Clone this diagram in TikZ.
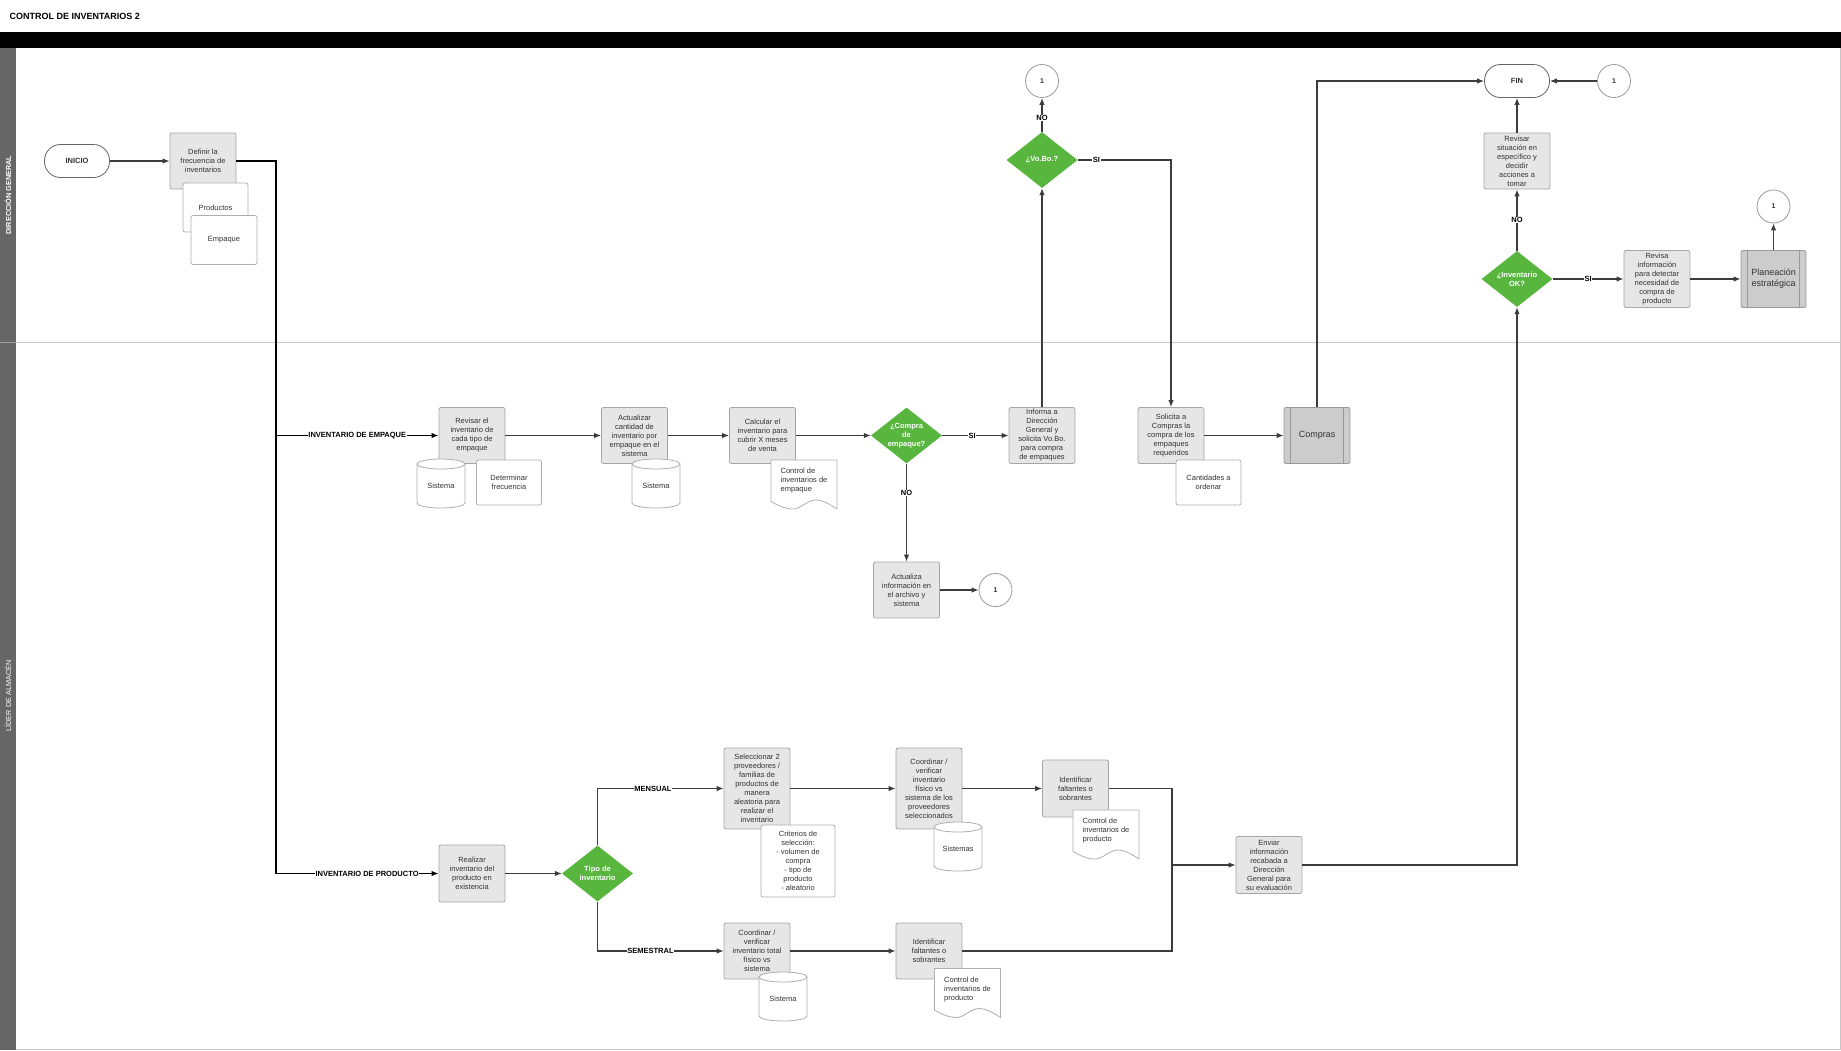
\documentclass[tikz,border=0pt]{standalone}
\usepackage{fontspec}
\setmainfont{Liberation Sans}
\usetikzlibrary{arrows.meta,shapes.geometric}

\definecolor{boxfill}{HTML}{E6E6E6}
\definecolor{boxline}{HTML}{A6A6A6}
\definecolor{predfill}{HTML}{CCCCCC}
\definecolor{predline}{HTML}{999999}
\definecolor{noteline}{HTML}{AFAFAF}
\definecolor{txt}{HTML}{333333}
\definecolor{decgreen}{HTML}{58B63E}
\definecolor{linec}{HTML}{3C3C3C}
\definecolor{hdr}{HTML}{666666}
\definecolor{lanec}{HTML}{C8C8C8}

\newcommand\boxfont{\fontsize{7.5}{9}\selectfont}

% document shape: name, top-left corner, text
\newcommand\docnode[3]{%
  \begin{scope}[shift={#2}]
    \draw[noteline, fill=white, line width=0.8pt] (0,0) -- (66,0) -- (66,49)
      .. controls (58,44) and (52,40) .. (45,40)
      .. controls (36,40) and (30,49) .. (22,49)
      .. controls (14,49) and (6,45) .. (0,41.5) -- cycle;
    \node[doctext] (#1) at (33,21) {#3};
  \end{scope}}

% cylinder: name, top-left corner, text
\newcommand\cylnode[3]{%
  \begin{scope}[shift={#2}]
    \draw[noteline, fill=white, line width=0.8pt] (0,5) -- (0,44)
      arc[start angle=180, end angle=360, x radius=24pt, y radius=5pt] -- (48,5)
      arc[start angle=0, end angle=180, x radius=24pt, y radius=5pt] -- cycle;
    \draw[noteline, line width=0.8pt] (0,5) arc[start angle=180, end angle=360, x radius=24pt, y radius=5pt];
    \node[doctext, align=center] (#1) at (24,27) {#3};
  \end{scope}}

% inner bars of a predefined process
\newcommand\predbars[1]{%
  \draw[predline, line width=0.8pt] ([xshift=7pt]#1.north west) -- ([xshift=7pt]#1.south west);
  \draw[predline, line width=0.8pt] ([xshift=-7pt]#1.north east) -- ([xshift=-7pt]#1.south east);}

\tikzset{
  proc/.style={draw=boxline, fill=boxfill, line width=0.8pt, rounded corners=2pt, minimum width=66pt, minimum height=56pt, inner sep=1pt, align=center, font=\boxfont, text=txt},
  note/.style={draw=noteline, fill=white, line width=0.8pt, rounded corners=2pt, minimum width=65pt, minimum height=45pt, inner sep=1pt, align=center, font=\boxfont, text=txt},
  pred/.style={proc, fill=predfill, draw=predline, font=\fontsize{9}{11}\selectfont},
  dec/.style={diamond, fill=decgreen, minimum width=71pt, minimum height=56pt, inner sep=0pt, aspect=1.27, align=center, text=white, font=\fontsize{7.5}{8.7}\selectfont\bfseries},
  term/.style={draw=linec!80, fill=white, line width=0.8pt, rounded corners=16pt, minimum width=65pt, minimum height=33pt, font=\boxfont\bfseries, text=txt},
  conn/.style={circle, draw=predline, fill=white, line width=0.8pt, minimum size=33pt, inner sep=0pt, font=\fontsize{7}{8}\selectfont\bfseries, text=txt},
  doctext/.style={inner sep=0pt, align=left, font=\boxfont, text=txt},
  lbl/.style={fill=white, inner sep=0.6pt, font=\boxfont\bfseries},
  line/.style={draw=linec, line width=1.1pt},
  edge/.style={line, -{Latex[length=7pt,width=5.5pt]}},
  trunk/.style={edge, draw=black, line width=1.6pt},
  lanelbl/.style={rotate=90, text=white, font=\fontsize{7.3}{8}\selectfont},
}

\begin{document}
\begin{tikzpicture}[x=1pt, y=-1pt]
	\useasboundingbox (0,0) rectangle (1841,1050);
	% lanes
	\fill[black] (0,32) rectangle (1841,48);
	\fill[hdr] (0,48) rectangle (16,1050);
	\draw[lanec] (16,342) -- (1840,342);
	\draw[lanec!60!hdr] (0,342) -- (16,342);
	\draw[lanec] (1840,48) -- (1840,1049) -- (16,1049);
	\node[lanelbl, font=\fontsize{7.3}{8}\selectfont\bfseries] (lane1) at (8,195) {DIRECCIÓN GENERAL};
	\node[lanelbl] (lane2) at (8,696) {LÍDER DE ALMACÉN};
	\node[anchor=west, font=\fontsize{9}{11}\selectfont\bfseries] (title) at (6,16) {CONTROL DE INVENTARIOS 2};

	% direccion general
	\node[term] (inicio) at (77,161) {INICIO};
	\node[proc] (defin) at (203,161) {Definir la\\frecuencia de\\inventarios};
	\node[note, minimum height=49pt] (prod) at (215.5,207.5) {Productos};
	\node[note, minimum width=66pt, minimum height=49pt] (emp) at (224,240) {Empaque};
	\node[conn] (c1a) at (1042,81) {1};
	\node[dec] (vobo) at (1042,160) {¿Vo.Bo.?};
	\node[term] (fin) at (1517,81) {FIN};
	\node[conn] (c1c) at (1614,81) {1};
	\node[proc] (revsit) at (1517,161) {Revisar\\situación en\\específico y\\decidir\\acciones a\\tomar};
	\node[dec] (invok) at (1517,279) {¿Inventario\\OK?};
	\node[proc, minimum height=57pt] (revinfo) at (1657,279) {Revisa\\información\\para detectar\\necesidad de\\compra de\\producto};
	\node[pred, minimum width=65pt, minimum height=57pt] (plan) at (1773.5,279) {Planeación\\estratégica};
	\predbars{plan}
	\node[conn] (c1d) at (1773.5,206.5) {1};

	% lider de almacen: empaque
	\node[proc] (revemp) at (472,435.5) {Revisar el\\inventario de\\cada tipo de\\empaque};
	\cylnode{sis1}{(417,459)}{Sistema}
	\node[note] (detfrec) at (509,482.5) {Determinar\\frecuencia};
	\node[proc] (actcant) at (634.5,435.5) {Actualizar\\cantidad de\\inventario por\\empaque en el\\sistema};
	\cylnode{sis2}{(632,459)}{Sistema}
	\node[proc] (calc) at (762.5,435.5) {Calcular el\\inventario para\\cubrir X meses\\de venta};
	\docnode{ctrlemp}{(771,460)}{Control de\\inventarios de\\empaque}
	\node[dec] (compra) at (906.5,435.5) {¿Compra\\de\\empaque?};
	\node[proc] (informa) at (1042,435.5) {Informa a\\Dirección\\General y\\solicita Vo.Bo.\\para compra\\de empaques};
	\node[proc] (actinfo) at (906.5,590) {Actualiza\\información en\\el archivo y\\sistema};
	\node[conn] (c1b) at (995.5,590) {1};
	\node[proc] (solic) at (1171,435.5) {Solicita a\\Compras la\\compra de los\\empaques\\requeridos};
	\node[note] (cant) at (1208.5,482.5) {Cantidades a\\ordenar};
	\node[pred] (compras) at (1317,435.5) {Compras};
	\predbars{compras}

	% lider de almacen: producto
	\node[proc, minimum height=57pt] (realiz) at (472,873.5) {Realizar\\inventario del\\producto en\\existencia};
	\node[dec] (tipo) at (597.5,873.5) {Tipo de\\inventario};
	\node[proc, minimum height=81pt] (selec) at (757,788.5) {Seleccionar 2\\proveedores /\\familias de\\productos de\\manera\\aleatoria para\\realizar el\\inventario};
	\node[note, minimum width=74pt, minimum height=72pt] (crit) at (798,861) {Criterios de\\selección:\\- volumen de\\compra\\- tipo de\\producto\\- aleatorio};
	\node[proc, minimum height=81pt] (coordprov) at (929,788.5) {Coordinar /\\verificar\\inventario\\físico vs\\sistema de los\\proveedores\\seleccionados};
	\cylnode{sistemas}{(934,822)}{Sistemas}
	\node[proc, minimum height=57pt] (idtop) at (1075.5,788.5) {Identificar\\faltantes o\\sobrantes};
	\docnode{ctrlprod1}{(1073,810)}{Control de\\inventarios de\\producto}
	\node[proc, minimum height=57pt] (enviar) at (1269,865) {Enviar\\información\\recabada a\\Dirección\\General para\\su evaluación};
	\node[proc] (coordtot) at (757,951) {Coordinar /\\verificar\\inventario total\\físico vs\\sistema};
	\cylnode{sis3}{(759,972)}{Sistema}
	\node[proc] (idbot) at (929,951) {Identificar\\faltantes o\\sobrantes};
	\docnode{ctrlprod2}{(934.5,968.5)}{Control de\\inventarios de\\producto}

	% connectors
	\coordinate (split) at (276,161);
	\coordinate (merge) at (1172,865);
	\draw[edge] (inicio) -- (defin);
	\draw[trunk] (defin.east) -- (split) |- node[lbl, pos=0.75] {INVENTARIO DE EMPAQUE} (revemp.west);
	\draw[trunk] (split) |- node[lbl, pos=0.78] {INVENTARIO DE PRODUCTO} (realiz.west);
	\draw[edge] (revemp) -- (actcant);
	\draw[edge] (actcant) -- (calc);
	\draw[edge] (calc) -- (compra);
	\draw[edge] (compra) -- node[lbl, pos=0.45] {SI} (informa);
	\draw[edge] (compra) -- node[lbl, pos=0.3] {NO} (actinfo);
	\draw[edge] (actinfo) -- (c1b);
	\draw[edge] (informa) -- (vobo);
	\draw[edge] (vobo) -- node[lbl, pos=0.4] {NO} (c1a);
	\draw[edge] (vobo.east) -| node[lbl, pos=0.1] {SI} (solic.north);
	\draw[edge] (solic) -- (compras);
	\draw[edge] (compras.north) |- (fin.west);
	\draw[edge] (c1c) -- (fin);
	\draw[edge] (revsit) -- (fin);
	\draw[edge] (invok) -- node[lbl] {NO} (revsit);
	\draw[edge] (invok) -- node[lbl] {SI} (revinfo);
	\draw[edge] (revinfo) -- (plan);
	\draw[edge] (plan) -- (c1d);
	\draw[edge] (realiz) -- (tipo);
	\draw[edge] (tipo.north) |- node[lbl, pos=0.72] {MENSUAL} (selec.west);
	\draw[edge] (tipo.south) |- node[lbl, pos=0.71] {SEMESTRAL} (coordtot.west);
	\draw[edge] (selec) -- (coordprov);
	\draw[edge] (coordprov) -- (idtop);
	\draw[edge] (coordtot) -- (idbot);
	\draw[line] (idtop.east) -| (merge);
	\draw[line] (idbot.east) -| (merge);
	\draw[edge] (merge) -- (enviar);
	\draw[edge] (enviar.east) -| (invok.south);
\end{tikzpicture}
\end{document}
